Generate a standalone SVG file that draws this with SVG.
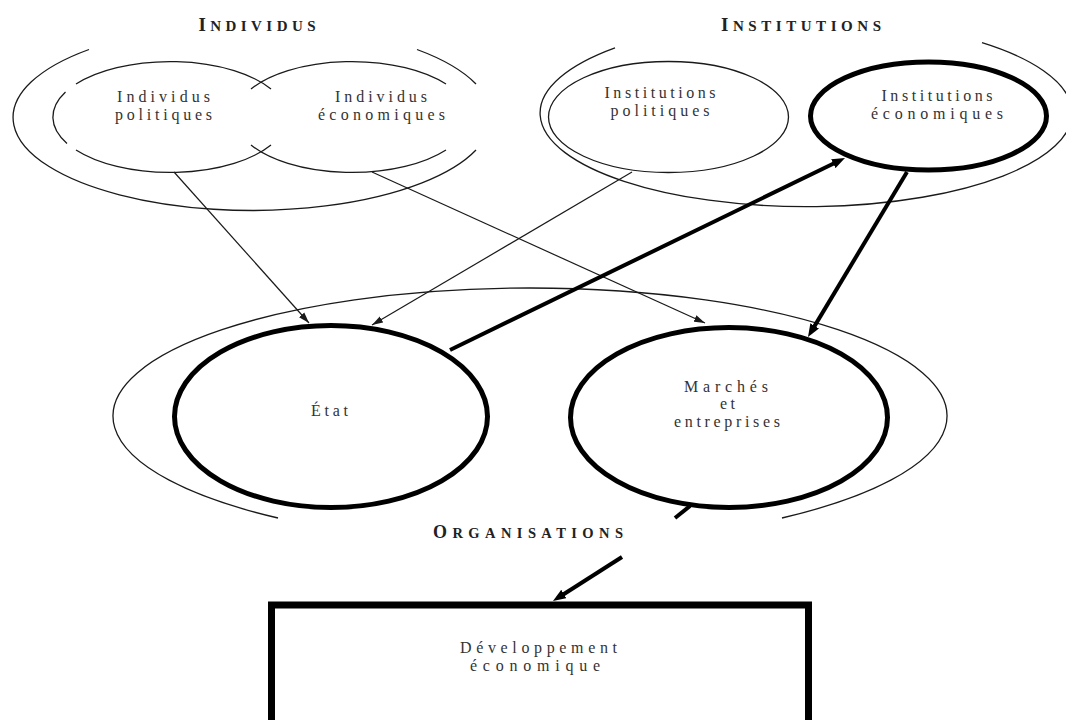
<svg xmlns="http://www.w3.org/2000/svg" width="1066" height="720" viewBox="0 0 1066 720">
<defs>
<style>
.thin{fill:none;stroke:#1a1a1a;stroke-width:1.3}
.thick{fill:none;stroke:#000;stroke-width:5}
.cthin{fill:none;stroke:#1a1a1a;stroke-width:1.2}
.cthick{fill:none;stroke:#000;stroke-width:4}
.body{font-family:"Liberation Serif",serif;font-size:16px;fill:#333;text-anchor:middle}
.title{font-family:"Liberation Serif",serif;font-weight:bold;fill:#222;text-anchor:middle}
</style>
<marker id="ah" markerUnits="userSpaceOnUse" markerWidth="12" markerHeight="8" refX="11" refY="4" orient="auto">
<path d="M0,0.5 L11,4 L0,7.5 z" fill="#1a1a1a"/>
</marker>
<marker id="ahb" markerUnits="userSpaceOnUse" markerWidth="14" markerHeight="10" refX="5" refY="5" orient="auto">
<path d="M0,0 L13,5 L0,10 z" fill="#000"/>
</marker>
</defs>
<rect width="1066" height="720" fill="#fff"/>

<g id="individus">
<text class="title" x="257" y="30.5" textLength="117" lengthAdjust="spacing"><tspan font-size="19">I</tspan><tspan font-size="15">NDIVIDUS</tspan></text>
<path class="thin" d="M 89 49.5 A 239 93 0 1 0 476 150"/>
<path class="thin" d="M 417 49.5 A 239 93 0 0 1 476 84"/>
</g>
<g id="individus-politiques">
<path class="thin" d="M 76 84 A 117 55.5 0 0 1 271 89"/>
<path class="thin" d="M 65.5 92 A 117 55.5 0 0 0 67 143.5"/>
<path class="thin" d="M 76 150 A 117 55.5 0 0 0 271 145"/>
<text class="body" x="163.5" y="102" textLength="93" lengthAdjust="spacing">Individus</text>
<text class="body" x="163.5" y="120" textLength="97" lengthAdjust="spacing">politiques</text>
</g>
<g id="individus-economiques">
<path class="thin" d="M 251 89 A 117 55.5 0 0 1 446 84"/>
<path class="thin" d="M 251 145 A 117 55.5 0 0 0 446 150"/>
<text class="body" x="381" y="102" textLength="92" lengthAdjust="spacing">Individus</text>
<text class="body" x="381.5" y="120" textLength="127" lengthAdjust="spacing">économiques</text>
</g>

<g id="institutions">
<text class="title" x="801" y="30.5" textLength="160" lengthAdjust="spacing"><tspan font-size="19">I</tspan><tspan font-size="15">NSTITUTIONS</tspan></text>
<path class="thin" d="M 615 47.8 A 266 93.7 0 1 0 982 42.7"/>
</g>
<g id="institutions-politiques">
<ellipse class="thin" cx="668.5" cy="117" rx="120" ry="55.5"/>
<text class="body" x="660" y="98" textLength="111" lengthAdjust="spacing">Institutions</text>
<text class="body" x="660" y="116" textLength="99" lengthAdjust="spacing">politiques</text>
</g>
<g id="institutions-economiques">
<ellipse class="thick" cx="928.5" cy="116" rx="118" ry="54"/>
<text class="body" x="937" y="101" textLength="111" lengthAdjust="spacing">Institutions</text>
<text class="body" x="937" y="119" textLength="132" lengthAdjust="spacing">économiques</text>
</g>

<g id="organisations">
<path class="thin" d="M 278 518 A 417 128 0 1 1 782 518"/>
<text class="title" x="528" y="538" textLength="190" lengthAdjust="spacing"><tspan font-size="18">O</tspan><tspan font-size="14.5">RGANISATIONS</tspan></text>
</g>
<g id="etat">
<ellipse class="thick" cx="331" cy="416.5" rx="156.5" ry="91"/>
<text class="body" x="329.5" y="416" textLength="37" lengthAdjust="spacing">État</text>
</g>
<g id="marches">
<ellipse class="thick" cx="729" cy="417.5" rx="158.5" ry="90"/>
<text class="body" x="726" y="392" textLength="84" lengthAdjust="spacing">Marchés</text>
<text class="body" x="727.5" y="409" textLength="15" lengthAdjust="spacing">et</text>
<text class="body" x="727" y="427" textLength="106" lengthAdjust="spacing">entreprises</text>
</g>
<g id="developpement">
<rect x="271.5" y="605" width="537" height="200" fill="none" stroke="#000" stroke-width="7"/>
<text class="body" x="538.5" y="653" textLength="157" lengthAdjust="spacing">Développement</text>
<text class="body" x="535" y="671" textLength="130" lengthAdjust="spacing">économique</text>
</g>

<g id="connectors">
<line class="cthin" x1="174" y1="172" x2="309" y2="323" marker-end="url(#ah)"/>
<line class="cthin" x1="372" y1="172" x2="705" y2="323" marker-end="url(#ah)"/>
<line class="cthin" x1="632" y1="172" x2="372" y2="325" marker-end="url(#ah)"/>
<line class="cthick" x1="450" y1="350" x2="837.8" y2="161.5" marker-end="url(#ahb)"/>
<line class="cthick" x1="907" y1="172" x2="812.1" y2="330.1" marker-end="url(#ahb)"/>
<line class="cthick" x1="690" y1="506" x2="675" y2="518"/>
<line class="cthick" x1="622" y1="557" x2="559.7" y2="596.7" marker-end="url(#ahb)"/>
</g>
</svg>
